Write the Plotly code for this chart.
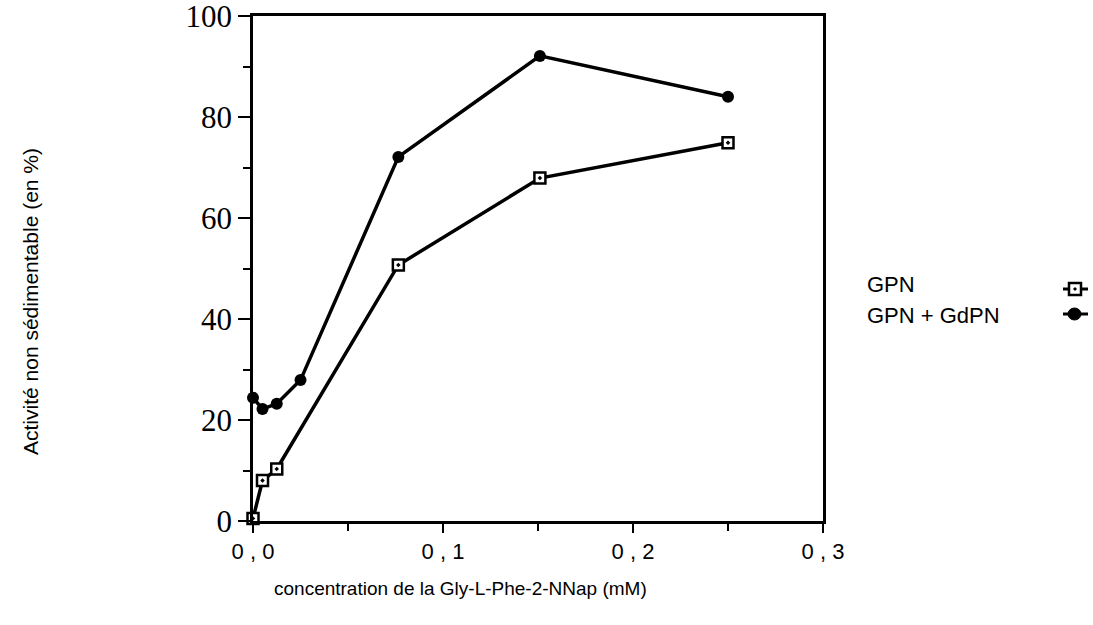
import plotly.graph_objects as go

# Data
x_gpn = [0.0, 0.005, 0.0125, 0.0765, 0.151, 0.25]
y_gpn = [0.5, 8.0, 10.3, 50.7, 67.9, 74.9]

x_gdpn = [0.0, 0.005, 0.0125, 0.025, 0.0765, 0.151, 0.25]
y_gdpn = [24.4, 22.2, 23.2, 27.9, 72.1, 92.1, 84.0]

x_tickvals = [0.0, 0.1, 0.2, 0.3]
x_ticktext = ["0 , 0", "0 , 1", "0 , 2", "0 , 3"]
y_tickvals = [0, 20, 40, 60, 80, 100]

legend_names = ["GPN", "GPN + GdPN"]

fig = go.Figure()
fig.add_trace(go.Scatter(
    x=x_gpn, y=y_gpn, mode="lines+markers", name=legend_names[0],
    line=dict(color="black", width=3.5),
    marker=dict(symbol="square-dot", size=11, color="white",
                line=dict(color="black", width=2.5)),
    cliponaxis=False, showlegend=False))
fig.add_trace(go.Scatter(
    x=x_gdpn, y=y_gdpn, mode="lines+markers", name=legend_names[1],
    line=dict(color="black", width=3.5),
    marker=dict(symbol="circle", size=12, color="black"),
    cliponaxis=False, showlegend=False))

axis_common = dict(showgrid=False, zeroline=False, showline=True,
                   linecolor="black", linewidth=2.5, mirror=True,
                   ticks="outside", tickcolor="black", tickwidth=2,
                   automargin=False, ticklabeloverflow="allow")

fig.update_xaxes(range=[0, 0.3], tickvals=x_tickvals, ticktext=x_ticktext,
                 ticklen=9,
                 tickfont=dict(family="Liberation Sans, Arial", size=22, color="black"),
                 minor=dict(dtick=0.05, tick0=0, ticks="outside", ticklen=7,
                            tickcolor="black", tickwidth=2),
                 **axis_common)
fig.update_yaxes(range=[0, 100], tickvals=y_tickvals, ticklen=12,
                 tickfont=dict(family="Liberation Serif, Times New Roman", size=31, color="black"),
                 minor=dict(dtick=10, tick0=0, ticks="outside", ticklen=7,
                            tickcolor="black", tickwidth=2),
                 **axis_common)

def font(size):
    return dict(family="Liberation Sans, Arial", size=size, color="black")

annotations = [
    dict(text="concentration de la Gly-L-Phe-2-NNap (mM)", x=460, y=588,
         xref="paper", yref="paper", showarrow=False, font=font(19),
         xanchor="center", yanchor="middle"),
    dict(text="Activité non sédimentable (en %)", x=30, y=302, textangle=-90,
         xref="paper", yref="paper", showarrow=False, font=font(21),
         xanchor="center", yanchor="middle"),
    dict(text=legend_names[0], x=865, y=284, xanchor="left", yanchor="middle",
         xref="paper", yref="paper", showarrow=False, font=font(22)),
    dict(text=legend_names[1], x=865, y=315, xanchor="left", yanchor="middle",
         xref="paper", yref="paper", showarrow=False, font=font(22)),
]

W, H = 1093, 625
L, R, T, B = 253, 270, 16, 104
pw, ph = W - L - R, H - T - B

def px_to_paper(xp, yp):
    return (xp - L) / pw, 1 - (yp - T) / ph

for a in annotations:
    a["x"], a["y"] = px_to_paper(a["x"], a["y"])

shapes = []
# legend symbols (decoration)
for yy in (289, 314):
    x0, y0 = px_to_paper(1063, yy)
    x1, _ = px_to_paper(1088, yy)
    shapes.append(dict(type="line", xref="paper", yref="paper", x0=x0, x1=x1, y0=y0, y1=y0,
                       line=dict(color="black", width=3)))
x0, y0 = px_to_paper(1069, 283)
x1, y1 = px_to_paper(1081, 295)
shapes.append(dict(type="rect", xref="paper", yref="paper", x0=x0, x1=x1, y0=y0, y1=y1,
                   fillcolor="white", line=dict(color="black", width=2.5)))
x0, y0 = px_to_paper(1074, 288)
x1, y1 = px_to_paper(1076, 290)
shapes.append(dict(type="rect", xref="paper", yref="paper", x0=x0, x1=x1, y0=y0, y1=y1,
                   fillcolor="black", line=dict(color="black", width=1)))
x0, y0 = px_to_paper(1068, 308)
x1, y1 = px_to_paper(1081, 320)
shapes.append(dict(type="circle", xref="paper", yref="paper", x0=x0, x1=x1, y0=y0, y1=y1,
                   fillcolor="black", line=dict(color="black", width=1)))

fig.update_layout(width=W, height=H, margin=dict(l=L, r=R, t=T, b=B, autoexpand=False),
                  paper_bgcolor="white", plot_bgcolor="white",
                  annotations=annotations, shapes=shapes, showlegend=False)

fig.write_html("out.html")
